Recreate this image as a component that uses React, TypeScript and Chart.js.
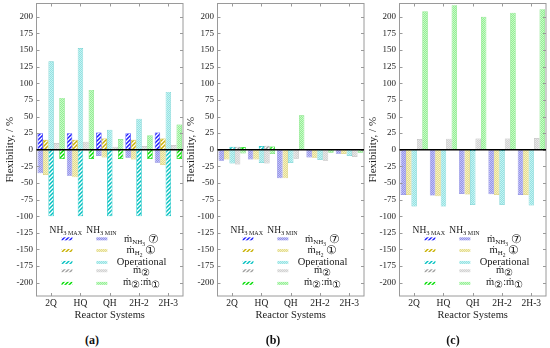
import React, { useEffect, useRef } from 'react';
import { Chart, registerables } from 'chart.js';

Chart.register(...registerables);

const FONT = '"Liberation Serif", "DejaVu Serif", serif';

const categories = ['2Q', 'HQ', 'QH', '2H-2', '2H-3'];
const yTickValues = [-200, -175, -150, -125, -100, -75, -50, -25, 0, 25, 50, 75, 100, 125, 150, 175, 200];
const seriesNames = ['ṁNH3 ⑦', 'ṁH2 ①', 'Operational', 'ṁ②', 'ṁ②:ṁ①'];

// Panel (a)  — MAX (hatched) and MIN (light) per series
const aMaxNH3 = [25, 25, 26, 25, 26];
const aMaxH2 = [15, 15, 17, 15, 17];
const aMaxOper = [-100, -100, -100, -100, -100];
const aMaxM2 = [0, 0, 0, 0, 0];
const aMaxRatio = [-14, -14, -14, -14, -14];
const aMinNH3 = [-35.5, -39, -9.5, -12, -19.5];
const aMinH2 = [-38, -41.5, -11.5, -14.5, -23];
const aMinOper = [133, 153, 30, 46.5, 87];
const aMinM2 = [10, 12, 4.5, 5.5, 7];
const aMinRatio = [78, 90, 16, 22, 38];

// Panel (b)
const bMaxNH3 = [0, 0, 0, 0, 0];
const bMaxH2 = [0, 0, 0, 0, 0];
const bMaxOper = [4.5, 5.5, 0, 0, 0];
const bMaxM2 = [4.5, 6, 0, 0, 0];
const bMaxRatio = [4, 5, 0, 0, 0];
const bMinNH3 = [-16.5, -14.5, -43, -11.5, -6];
const bMinH2 = [-14.5, -14.5, -43, -12, -6.5];
const bMinOper = [-20.5, -20, -20, -15.5, -9.5];
const bMinM2 = [-22, -20.5, -13.5, -16.5, -11];
const bMinRatio = [-5.5, -6.5, 52, -4.5, -4.5];

// Panel (c)
const cMaxNH3 = [0, 0, 0, 0, 0];
const cMaxH2 = [0, 0, 0, 0, 0];
const cMaxOper = [0, 0, -2, -2, 0];
const cMaxM2 = [0, 0, 0, 0, 0];
const cMaxRatio = [0, 0, 0, 0, 0];
const cMinNH3 = [-68, -69, -66.5, -67, -68];
const cMinH2 = [-68, -70, -67.5, -68, -68];
const cMinOper = [-85.5, -85.5, -83, -83, -84];
const cMinM2 = [16, 16.5, 17, 17, 17.5];
const cMinRatio = [208.5, 217.5, 200, 206, 211.5];

const hatchColors = ['#1a1aff', '#c8b000', '#00c0c0', '#a0a0a0', '#00dd00'];
const lightA = ['#9494ea', '#e4dc8c', '#94e2e2', '#d2d2d2', '#94ef94'];
const lightB = ['#c4c4f6', '#f4f0c4', '#c6f3f3', '#e8e8e8', '#c8f9c8'];
const lightEdge = ['#8080e0', '#d8cc70', '#70d0d0', '#bbbbbb', '#70e070'];

function hatchPattern(ctx: CanvasRenderingContext2D, color: string) {
  const c = document.createElement('canvas');
  c.width = 4;
  c.height = 4;
  const x = c.getContext('2d')!;
  x.fillStyle = color;
  x.fillRect(0, 0, 4, 4);
  x.strokeStyle = '#ffffff';
  x.lineWidth = 1.4;
  x.beginPath();
  x.moveTo(-1, 5);
  x.lineTo(5, -1);
  x.moveTo(-1, 1);
  x.lineTo(1, -1);
  x.moveTo(3, 5);
  x.lineTo(5, 3);
  x.stroke();
  return ctx.createPattern(c, 'repeat')!;
}

function dotPattern(ctx: CanvasRenderingContext2D, a: string, b: string) {
  const c = document.createElement('canvas');
  c.width = 2;
  c.height = 2;
  const x = c.getContext('2d')!;
  x.fillStyle = b;
  x.fillRect(0, 0, 2, 2);
  x.fillStyle = a;
  x.fillRect(0, 0, 1, 1);
  x.fillRect(1, 1, 1, 1);
  return ctx.createPattern(c, 'repeat')!;
}

type Seg = { t: string; s: number; dy?: number };

function drawRich(ctx: CanvasRenderingContext2D, segs: Seg[], cx: number, by: number) {
  let w = 0;
  for (const sg of segs) {
    ctx.font = `${sg.s}px ${FONT}`;
    w += ctx.measureText(sg.t).width;
  }
  let x = cx - w / 2;
  ctx.textAlign = 'left';
  ctx.textBaseline = 'alphabetic';
  for (const sg of segs) {
    ctx.font = `${sg.s}px ${FONT}`;
    ctx.fillText(sg.t, x, by + (sg.dy || 0));
    x += ctx.measureText(sg.t).width;
  }
}

const legendLabels: Seg[][] = [
  [{ t: 'ṁ', s: 10.5 }, { t: 'NH', s: 7, dy: 2 }, { t: '3', s: 5.5, dy: 3.5 }, { t: ' ⑦', s: 11.5, dy: 1 }],
  [{ t: 'ṁ', s: 10.5 }, { t: 'H', s: 7, dy: 2 }, { t: '2', s: 5.5, dy: 3.5 }, { t: ' ①', s: 11.5, dy: 1 }],
  [{ t: 'Operational', s: 10.5 }],
  [{ t: 'ṁ', s: 10.5 }, { t: '②', s: 10, dy: 3 }],
  [{ t: 'ṁ', s: 10.5 }, { t: '②', s: 10, dy: 3 }, { t: ':', s: 10 }, { t: 'ṁ', s: 10.5 }, { t: '①', s: 10, dy: 3 }],
];
const patchRowValues = [-134, -151.5, -169.5, -182, -201];
const labelBaseValues = [-139, -155.5, -173.5, -185, -204];

function makePlugins(hatches: CanvasPattern[], lights: CanvasPattern[]) {
  return {
    id: 'frameLegend',
    afterDatasetsDraw(chart: any) {
      const { ctx, chartArea: ca, scales } = chart;
      const ys = scales.y;
      const xs = scales.x;
      ctx.save();
      // frame
      ctx.strokeStyle = '#9a9a9a';
      ctx.lineWidth = 1;
      ctx.strokeRect(ca.left, ca.top, ca.right - ca.left, ca.bottom - ca.top);
      // inward ticks
      ctx.beginPath();
      for (const v of yTickValues) {
        const y = Math.round(ys.getPixelForValue(v)) + 0.5;
        ctx.moveTo(ca.left, y);
        ctx.lineTo(ca.left + 3, y);
        ctx.moveTo(ca.right, y);
        ctx.lineTo(ca.right - 3, y);
      }
      for (let i = 0; i < categories.length; i++) {
        const x = Math.round(xs.getPixelForValue(i)) + 0.5;
        ctx.moveTo(x, ca.top);
        ctx.lineTo(x, ca.top + 3);
        ctx.moveTo(x, ca.bottom);
        ctx.lineTo(x, ca.bottom - 3);
      }
      ctx.stroke();
      // zero line
      const y0 = ys.getPixelForValue(0);
      ctx.strokeStyle = '#000';
      ctx.lineWidth = 1.3;
      ctx.beginPath();
      ctx.moveTo(ca.left, y0);
      ctx.lineTo(ca.right, y0);
      ctx.stroke();
      // legend
      const w = ca.right - ca.left;
      ctx.fillStyle = '#1a1a1a';
      const hy = ys.getPixelForValue(-124.5);
      drawRich(ctx, [{ t: 'NH', s: 9.5 }, { t: '3', s: 6.5, dy: 2 }, { t: ' MAX', s: 6, dy: 2 }], ca.left + 0.2 * w, hy);
      drawRich(ctx, [{ t: 'NH', s: 9.5 }, { t: '3', s: 6.5, dy: 2 }, { t: ' MIN', s: 6, dy: 2 }], ca.left + 0.443 * w, hy);
      for (let i = 0; i < 5; i++) {
        const py = ys.getPixelForValue(patchRowValues[i]);
        const x1 = ca.left + 0.208 * w;
        const x2 = ca.left + 0.446 * w;
        ctx.fillStyle = hatches[i];
        ctx.fillRect(x1 - 5.5, py - 1.5, 11, 3);
        ctx.fillStyle = lights[i];
        ctx.fillRect(x2 - 5.5, py - 1.5, 11, 3);
        ctx.fillStyle = '#1a1a1a';
        drawRich(ctx, legendLabels[i], ca.left + 0.717 * w, ys.getPixelForValue(labelBaseValues[i]));
      }
      ctx.restore();
    },
  };
}

type PanelProps = {
  left: number;
  maxData: number[][];
  minData: number[][];
  tag: string;
  tagX: number;
};

const CW = 185;
const CH = 326;

function Panel({ left, maxData, minData, tag, tagX }: PanelProps) {
  const ref = useRef<HTMLCanvasElement>(null);
  useEffect(() => {
    const canvas = ref.current!;
    const ctx = canvas.getContext('2d')!;
    const hatches = hatchColors.map((c) => hatchPattern(ctx, c));
    const lights = lightA.map((a, i) => dotPattern(ctx, a, lightB[i]));
    const datasets: any[] = [];
    for (let i = 0; i < 5; i++) {
      datasets.push({
        label: seriesNames[i] + ' MAX',
        data: maxData[i],
        stack: 's' + i,
        backgroundColor: hatches[i],
        borderColor: hatchColors[i],
        borderWidth: 0.7,
      });
      datasets.push({
        label: seriesNames[i] + ' MIN',
        data: minData[i],
        stack: 's' + i,
        backgroundColor: lights[i],
        borderColor: lightEdge[i],
        borderWidth: 0.7,
      });
    }
    const chart = new Chart(ctx, {
      type: 'bar',
      data: { labels: categories, datasets },
      options: {
        responsive: false,
        animation: false,
        devicePixelRatio: 1,
        layout: { padding: { top: 3.5, right: 2, left: 0, bottom: 0 } },
        datasets: { bar: { categoryPercentage: 0.93, barPercentage: 1.0 } },
        plugins: { legend: { display: false }, tooltip: { enabled: false } },
        scales: {
          x: {
            grid: { display: false, drawTicks: false },
            border: { display: false },
            ticks: { font: { family: FONT, size: 9.5 }, color: '#222', padding: 2, maxRotation: 0, autoSkip: false },
            title: {
              display: true,
              text: 'Reactor Systems',
              font: { family: FONT, size: 10.5 },
              color: '#222',
              padding: { top: 0, bottom: 4 },
            },
            afterFit: (s: any) => {
              s.height = 30;
              s.paddingLeft = 0;
              s.paddingRight = 0;
            },
          },
          y: {
            stacked: false,
            min: -220,
            max: 220,
            afterBuildTicks: (s: any) => {
              s.ticks = yTickValues.map((v) => ({ value: v }));
            },
            grid: { display: false, drawTicks: false },
            border: { display: false },
            ticks: {
              font: { family: FONT, size: 9 },
              color: '#222',
              padding: 3.5,
              callback: (v: any) => String(v),
            },
            title: {
              display: true,
              text: 'Flexibility, / %',
              font: { family: FONT, size: 11 },
              color: '#222',
              padding: { top: 3.5, bottom: 0 },
            },
            afterFit: (s: any) => {
              s.width = 36.5;
              s.paddingTop = 0;
              s.paddingBottom = 0;
            },
          },
        },
      },
      plugins: [makePlugins(hatches, lights)],
    } as any);
    return () => chart.destroy();
  }, []);
  return (
    <>
      <canvas
        ref={ref}
        width={CW}
        height={CH}
        style={{ position: 'absolute', left, top: 0, width: CW, height: CH }}
      />
      <div
        style={{
          position: 'absolute',
          left: tagX - 20,
          width: 40,
          top: 332,
          textAlign: 'center',
          fontFamily: FONT,
          fontWeight: 'bold',
          fontSize: 12,
          color: '#111',
          lineHeight: '16px',
        }}
      >
        {tag}
      </div>
    </>
  );
}

export default function App() {
  return (
    <div style={{ position: 'absolute', left: 0, top: 0, width: 550, height: 348, background: '#fff', overflow: 'hidden' }}>
      <Panel
        left={0}
        tag="(a)"
        tagX={92}
        maxData={[aMaxNH3, aMaxH2, aMaxOper, aMaxM2, aMaxRatio]}
        minData={[aMinNH3, aMinH2, aMinOper, aMinM2, aMinRatio]}
      />
      <Panel
        left={181}
        tag="(b)"
        tagX={273}
        maxData={[bMaxNH3, bMaxH2, bMaxOper, bMaxM2, bMaxRatio]}
        minData={[bMinNH3, bMinH2, bMinOper, bMinM2, bMinRatio]}
      />
      <Panel
        left={363}
        tag="(c)"
        tagX={453}
        maxData={[cMaxNH3, cMaxH2, cMaxOper, cMaxM2, cMaxRatio]}
        minData={[cMinNH3, cMinH2, cMinOper, cMinM2, cMinRatio]}
      />
    </div>
  );
}
